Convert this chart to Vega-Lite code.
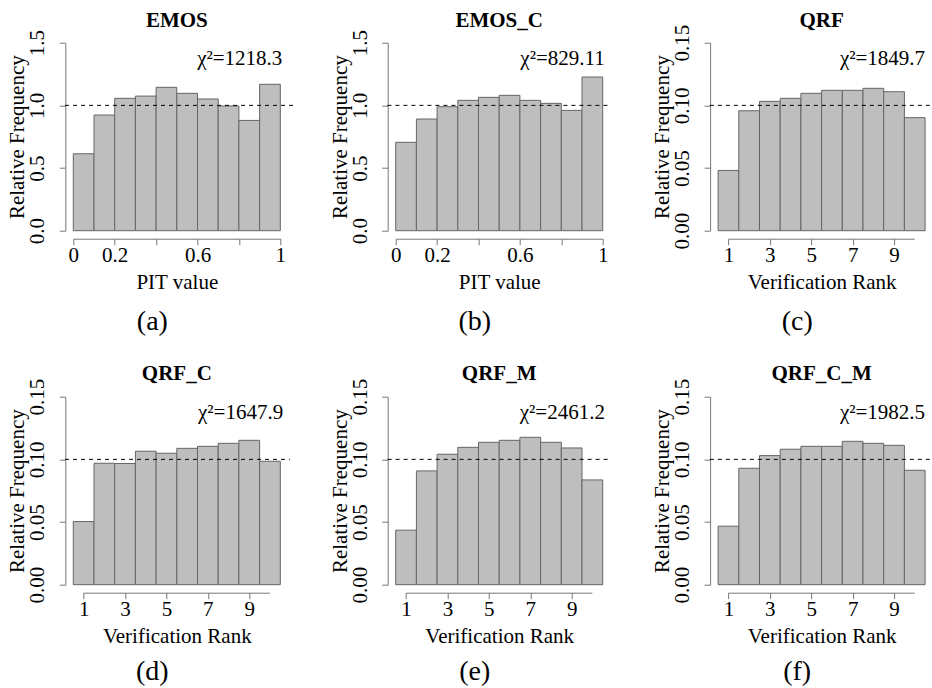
{
 "$schema": "https://vega.github.io/schema/vega-lite/v6.json",
 "background": "white",
 "autosize": {"type": "none"},
 "padding": {"left": 73.3, "top": 42.7, "right": 858.7, "bottom": 645.3},
 "datasets": {
  "emos": [
   {"lo": 0.0, "hi": 0.1, "freq": 0.614}, {"lo": 0.1, "hi": 0.2, "freq": 0.923}, {"lo": 0.2, "hi": 0.3, "freq": 1.056},
   {"lo": 0.3, "hi": 0.4, "freq": 1.074}, {"lo": 0.4, "hi": 0.5, "freq": 1.144}, {"lo": 0.5, "hi": 0.6, "freq": 1.096},
   {"lo": 0.6, "hi": 0.7, "freq": 1.051}, {"lo": 0.7, "hi": 0.8, "freq": 0.995}, {"lo": 0.8, "hi": 0.9, "freq": 0.880},
   {"lo": 0.9, "hi": 1.0, "freq": 1.168}
  ],
  "emos_c": [
   {"lo": 0.0, "hi": 0.1, "freq": 0.705}, {"lo": 0.1, "hi": 0.2, "freq": 0.891}, {"lo": 0.2, "hi": 0.3, "freq": 0.989},
   {"lo": 0.3, "hi": 0.4, "freq": 1.040}, {"lo": 0.4, "hi": 0.5, "freq": 1.064}, {"lo": 0.5, "hi": 0.6, "freq": 1.080},
   {"lo": 0.6, "hi": 0.7, "freq": 1.040}, {"lo": 0.7, "hi": 0.8, "freq": 1.016}, {"lo": 0.8, "hi": 0.9, "freq": 0.960},
   {"lo": 0.9, "hi": 1.0, "freq": 1.226}
  ],
  "qrf": [
   {"lo": 0.5, "hi": 1.5, "freq": 0.0481}, {"lo": 1.5, "hi": 2.5, "freq": 0.0957}, {"lo": 2.5, "hi": 3.5, "freq": 0.1032},
   {"lo": 3.5, "hi": 4.5, "freq": 0.1056}, {"lo": 4.5, "hi": 5.5, "freq": 0.1096}, {"lo": 5.5, "hi": 6.5, "freq": 0.1120},
   {"lo": 6.5, "hi": 7.5, "freq": 0.1120}, {"lo": 7.5, "hi": 8.5, "freq": 0.1136}, {"lo": 8.5, "hi": 9.5, "freq": 0.1109},
   {"lo": 9.5, "hi": 10.5, "freq": 0.0902}
  ],
  "qrf_c": [
   {"lo": 0.5, "hi": 1.5, "freq": 0.0504}, {"lo": 1.5, "hi": 2.5, "freq": 0.0969}, {"lo": 2.5, "hi": 3.5, "freq": 0.0967},
   {"lo": 3.5, "hi": 4.5, "freq": 0.1065}, {"lo": 4.5, "hi": 5.5, "freq": 0.1049}, {"lo": 5.5, "hi": 6.5, "freq": 0.1088},
   {"lo": 6.5, "hi": 7.5, "freq": 0.1104}, {"lo": 7.5, "hi": 8.5, "freq": 0.1128}, {"lo": 8.5, "hi": 9.5, "freq": 0.1152},
   {"lo": 9.5, "hi": 10.5, "freq": 0.0985}
  ],
  "qrf_m": [
   {"lo": 0.5, "hi": 1.5, "freq": 0.0435}, {"lo": 1.5, "hi": 2.5, "freq": 0.0908}, {"lo": 2.5, "hi": 3.5, "freq": 0.1041},
   {"lo": 3.5, "hi": 4.5, "freq": 0.1096}, {"lo": 4.5, "hi": 5.5, "freq": 0.1136}, {"lo": 5.5, "hi": 6.5, "freq": 0.1152},
   {"lo": 6.5, "hi": 7.5, "freq": 0.1176}, {"lo": 7.5, "hi": 8.5, "freq": 0.1136}, {"lo": 8.5, "hi": 9.5, "freq": 0.1091},
   {"lo": 9.5, "hi": 10.5, "freq": 0.0836}
  ],
  "qrf_c_m": [
   {"lo": 0.5, "hi": 1.5, "freq": 0.0467}, {"lo": 1.5, "hi": 2.5, "freq": 0.0929}, {"lo": 2.5, "hi": 3.5, "freq": 0.1030},
   {"lo": 3.5, "hi": 4.5, "freq": 0.1081}, {"lo": 4.5, "hi": 5.5, "freq": 0.1104}, {"lo": 5.5, "hi": 6.5, "freq": 0.1104},
   {"lo": 6.5, "hi": 7.5, "freq": 0.1144}, {"lo": 7.5, "hi": 8.5, "freq": 0.1128}, {"lo": 8.5, "hi": 9.5, "freq": 0.1112},
   {"lo": 9.5, "hi": 10.5, "freq": 0.0913}
  ]
 },
 "config": {
  "view": {"stroke": null},
  "font": "Liberation Serif",
  "text": {"color": "black", "font": "Liberation Serif"},
  "axis": {
   "grid": false, "domainColor": "#777777", "tickColor": "#777777", "labelColor": "black", "titleColor": "black",
   "labelFont": "Liberation Serif", "titleFont": "Liberation Serif", "labelFontSize": 21, "titleFontSize": 21,
   "titleFontWeight": "normal", "tickSize": 6, "labelOverlap": false, "labelBound": false, "labelFlush": false
  },
  "axisX": {"offset": 8, "labelPadding": 17, "labelBaseline": "alphabetic", "titleBaseline": "alphabetic", "titlePadding": 23},
  "axisY": {"offset": 8, "labelAngle": -90, "labelAlign": "center", "labelBaseline": "alphabetic", "labelPadding": 15.5, "titleBaseline": "alphabetic", "titlePadding": 3}
 },
 "columns": 3,
 "spacing": {"row": 166, "column": 115.4},
 "bounds": "flush",
 "concat": [
  {"width": 207, "height": 188,
   "layer": [
    {"data": {"name": "emos"},
     "mark": {"type": "rect", "fill": "#bebebe", "stroke": "#666666", "strokeWidth": 1},
     "encoding": {
      "x": {"field": "lo", "type": "quantitative", "scale": {"domain": [0, 1], "nice": false, "zero": false},
            "axis": {"title": "PIT value", "values": [0, 0.2, 0.4, 0.6, 0.8, 1], "labelExpr": "datum.value == 0 ? '0' : datum.value == 1 ? '1' : (abs(datum.value - 0.4) < 0.001 || abs(datum.value - 0.8) < 0.001) ? '' : format(datum.value, '.1f')"}},
      "x2": {"field": "hi"},
      "y": {"field": "freq", "type": "quantitative", "scale": {"domain": [0, 1.5], "nice": false},
            "axis": {"title": "Relative Frequency", "values": [0, 0.5, 1, 1.5], "format": ".1f"}},
      "y2": {"datum": 0}}},
    {"data": {"values": [{"ref": 1}]},
     "mark": {"type": "rule", "strokeDash": [4, 4], "color": "black", "strokeWidth": 1},
     "encoding": {"y": {"field": "ref", "type": "quantitative"}, "x": {"datum": -0.04}, "x2": {"datum": 1.08}}},
    {"data": {"values": [{"name": "EMOS", "chi": "χ²=1218.3", "cap": "(a)"}]},
     "layer": [
      {"mark": {"type": "text", "align": "center", "baseline": "alphabetic", "fontSize": 21, "fontWeight": "bold"},
       "encoding": {"x": {"datum": 0.5}, "y": {"datum": 1.628}, "text": {"field": "name"}}},
      {"mark": {"type": "text", "align": "right", "baseline": "alphabetic", "fontSize": 21},
       "encoding": {"x": {"datum": 1.01}, "y": {"datum": 1.32}, "text": {"field": "chi"}}},
      {"mark": {"type": "text", "align": "center", "baseline": "alphabetic", "fontSize": 28},
       "encoding": {"x": {"datum": 0.382}, "y": {"datum": -0.792}, "text": {"field": "cap"}}}
     ]}
   ]},
  {"width": 207, "height": 188,
   "layer": [
    {"data": {"name": "emos_c"},
     "mark": {"type": "rect", "fill": "#bebebe", "stroke": "#666666", "strokeWidth": 1},
     "encoding": {
      "x": {"field": "lo", "type": "quantitative", "scale": {"domain": [0, 1], "nice": false, "zero": false},
            "axis": {"title": "PIT value", "values": [0, 0.2, 0.4, 0.6, 0.8, 1], "labelExpr": "datum.value == 0 ? '0' : datum.value == 1 ? '1' : (abs(datum.value - 0.4) < 0.001 || abs(datum.value - 0.8) < 0.001) ? '' : format(datum.value, '.1f')"}},
      "x2": {"field": "hi"},
      "y": {"field": "freq", "type": "quantitative", "scale": {"domain": [0, 1.5], "nice": false},
            "axis": {"title": "Relative Frequency", "values": [0, 0.5, 1, 1.5], "format": ".1f"}},
      "y2": {"datum": 0}}},
    {"data": {"values": [{"ref": 1}]},
     "mark": {"type": "rule", "strokeDash": [4, 4], "color": "black", "strokeWidth": 1},
     "encoding": {"y": {"field": "ref", "type": "quantitative"}, "x": {"datum": -0.04}, "x2": {"datum": 1.04}}},
    {"data": {"values": [{"name": "EMOS_C", "chi": "χ²=829.11", "cap": "(b)"}]},
     "layer": [
      {"mark": {"type": "text", "align": "center", "baseline": "alphabetic", "fontSize": 21, "fontWeight": "bold"},
       "encoding": {"x": {"datum": 0.5}, "y": {"datum": 1.628}, "text": {"field": "name"}}},
      {"mark": {"type": "text", "align": "right", "baseline": "alphabetic", "fontSize": 21},
       "encoding": {"x": {"datum": 1.01}, "y": {"datum": 1.32}, "text": {"field": "chi"}}},
      {"mark": {"type": "text", "align": "center", "baseline": "alphabetic", "fontSize": 28},
       "encoding": {"x": {"datum": 0.382}, "y": {"datum": -0.792}, "text": {"field": "cap"}}}
     ]}
   ]},
  {"width": 207, "height": 188,
   "layer": [
    {"data": {"name": "qrf"},
     "mark": {"type": "rect", "fill": "#bebebe", "stroke": "#666666", "strokeWidth": 1},
     "encoding": {
      "x": {"field": "lo", "type": "quantitative", "scale": {"domain": [0.5, 10.5], "nice": false, "zero": false},
            "axis": {"title": "Verification Rank", "domain": false, "values": [1, 2, 3, 4, 5, 6, 7, 8, 9, 10], "labelExpr": "datum.value % 2 == 1 ? datum.label : ''"}},
      "x2": {"field": "hi"},
      "y": {"field": "freq", "type": "quantitative", "scale": {"domain": [0, 0.15], "nice": false},
            "axis": {"title": "Relative Frequency", "values": [0, 0.05, 0.1, 0.15], "format": ".2f"}},
      "y2": {"datum": 0}}},
    {"data": {"values": [{"ref": 0.1}]},
     "mark": {"type": "rule", "strokeDash": [4, 4], "color": "black", "strokeWidth": 1},
     "encoding": {"y": {"field": "ref", "type": "quantitative"}, "x": {"datum": 0.1}, "x2": {"datum": 10.8}}},
    {"data": {"values": [{"first": 1, "last": 10}]},
     "mark": {"type": "rule", "color": "#777777", "strokeWidth": 1},
     "encoding": {"x": {"field": "first", "type": "quantitative"}, "x2": {"field": "last"}, "y": {"datum": -0.00678}}},
    {"data": {"values": [{"name": "QRF", "chi": "χ²=1849.7", "cap": "(c)"}]},
     "layer": [
      {"mark": {"type": "text", "align": "center", "baseline": "alphabetic", "fontSize": 21, "fontWeight": "bold"},
       "encoding": {"x": {"datum": 5.5}, "y": {"datum": 0.1628}, "text": {"field": "name"}}},
      {"mark": {"type": "text", "align": "right", "baseline": "alphabetic", "fontSize": 21},
       "encoding": {"x": {"datum": 10.5}, "y": {"datum": 0.132}, "text": {"field": "chi"}}},
      {"mark": {"type": "text", "align": "center", "baseline": "alphabetic", "fontSize": 28},
       "encoding": {"x": {"datum": 4.32}, "y": {"datum": -0.0792}, "text": {"field": "cap"}}}
     ]}
   ]},
  {"width": 207, "height": 188,
   "layer": [
    {"data": {"name": "qrf_c"},
     "mark": {"type": "rect", "fill": "#bebebe", "stroke": "#666666", "strokeWidth": 1},
     "encoding": {
      "x": {"field": "lo", "type": "quantitative", "scale": {"domain": [0.5, 10.5], "nice": false, "zero": false},
            "axis": {"title": "Verification Rank", "domain": false, "values": [1, 2, 3, 4, 5, 6, 7, 8, 9, 10], "labelExpr": "datum.value % 2 == 1 ? datum.label : ''"}},
      "x2": {"field": "hi"},
      "y": {"field": "freq", "type": "quantitative", "scale": {"domain": [0, 0.15], "nice": false},
            "axis": {"title": "Relative Frequency", "values": [0, 0.05, 0.1, 0.15], "format": ".2f"}},
      "y2": {"datum": 0}}},
    {"data": {"values": [{"ref": 0.1}]},
     "mark": {"type": "rule", "strokeDash": [4, 4], "color": "black", "strokeWidth": 1},
     "encoding": {"y": {"field": "ref", "type": "quantitative"}, "x": {"datum": 0.1}, "x2": {"datum": 10.97}}},
    {"data": {"values": [{"first": 1, "last": 10}]},
     "mark": {"type": "rule", "color": "#777777", "strokeWidth": 1},
     "encoding": {"x": {"field": "first", "type": "quantitative"}, "x2": {"field": "last"}, "y": {"datum": -0.00678}}},
    {"data": {"values": [{"name": "QRF_C", "chi": "χ²=1647.9", "cap": "(d)"}]},
     "layer": [
      {"mark": {"type": "text", "align": "center", "baseline": "alphabetic", "fontSize": 21, "fontWeight": "bold"},
       "encoding": {"x": {"datum": 5.5}, "y": {"datum": 0.1635}, "text": {"field": "name"}}},
      {"mark": {"type": "text", "align": "right", "baseline": "alphabetic", "fontSize": 21},
       "encoding": {"x": {"datum": 10.64}, "y": {"datum": 0.132}, "text": {"field": "chi"}}},
      {"mark": {"type": "text", "align": "center", "baseline": "alphabetic", "fontSize": 28},
       "encoding": {"x": {"datum": 4.32}, "y": {"datum": -0.0757}, "text": {"field": "cap"}}}
     ]}
   ]},
  {"width": 207, "height": 188,
   "layer": [
    {"data": {"name": "qrf_m"},
     "mark": {"type": "rect", "fill": "#bebebe", "stroke": "#666666", "strokeWidth": 1},
     "encoding": {
      "x": {"field": "lo", "type": "quantitative", "scale": {"domain": [0.5, 10.5], "nice": false, "zero": false},
            "axis": {"title": "Verification Rank", "domain": false, "values": [1, 2, 3, 4, 5, 6, 7, 8, 9, 10], "labelExpr": "datum.value % 2 == 1 ? datum.label : ''"}},
      "x2": {"field": "hi"},
      "y": {"field": "freq", "type": "quantitative", "scale": {"domain": [0, 0.15], "nice": false},
            "axis": {"title": "Relative Frequency", "values": [0, 0.05, 0.1, 0.15], "format": ".2f"}},
      "y2": {"datum": 0}}},
    {"data": {"values": [{"ref": 0.1}]},
     "mark": {"type": "rule", "strokeDash": [4, 4], "color": "black", "strokeWidth": 1},
     "encoding": {"y": {"field": "ref", "type": "quantitative"}, "x": {"datum": 0.11}, "x2": {"datum": 10.93}}},
    {"data": {"values": [{"first": 1, "last": 10}]},
     "mark": {"type": "rule", "color": "#777777", "strokeWidth": 1},
     "encoding": {"x": {"field": "first", "type": "quantitative"}, "x2": {"field": "last"}, "y": {"datum": -0.00678}}},
    {"data": {"values": [{"name": "QRF_M", "chi": "χ²=2461.2", "cap": "(e)"}]},
     "layer": [
      {"mark": {"type": "text", "align": "center", "baseline": "alphabetic", "fontSize": 21, "fontWeight": "bold"},
       "encoding": {"x": {"datum": 5.5}, "y": {"datum": 0.1635}, "text": {"field": "name"}}},
      {"mark": {"type": "text", "align": "right", "baseline": "alphabetic", "fontSize": 21},
       "encoding": {"x": {"datum": 10.61}, "y": {"datum": 0.132}, "text": {"field": "chi"}}},
      {"mark": {"type": "text", "align": "center", "baseline": "alphabetic", "fontSize": 28},
       "encoding": {"x": {"datum": 4.32}, "y": {"datum": -0.0757}, "text": {"field": "cap"}}}
     ]}
   ]},
  {"width": 207, "height": 188,
   "layer": [
    {"data": {"name": "qrf_c_m"},
     "mark": {"type": "rect", "fill": "#bebebe", "stroke": "#666666", "strokeWidth": 1},
     "encoding": {
      "x": {"field": "lo", "type": "quantitative", "scale": {"domain": [0.5, 10.5], "nice": false, "zero": false},
            "axis": {"title": "Verification Rank", "domain": false, "values": [1, 2, 3, 4, 5, 6, 7, 8, 9, 10], "labelExpr": "datum.value % 2 == 1 ? datum.label : ''"}},
      "x2": {"field": "hi"},
      "y": {"field": "freq", "type": "quantitative", "scale": {"domain": [0, 0.15], "nice": false},
            "axis": {"title": "Relative Frequency", "values": [0, 0.05, 0.1, 0.15], "format": ".2f"}},
      "y2": {"datum": 0}}},
    {"data": {"values": [{"ref": 0.1}]},
     "mark": {"type": "rule", "strokeDash": [4, 4], "color": "black", "strokeWidth": 1},
     "encoding": {"y": {"field": "ref", "type": "quantitative"}, "x": {"datum": 0.1}, "x2": {"datum": 10.8}}},
    {"data": {"values": [{"first": 1, "last": 10}]},
     "mark": {"type": "rule", "color": "#777777", "strokeWidth": 1},
     "encoding": {"x": {"field": "first", "type": "quantitative"}, "x2": {"field": "last"}, "y": {"datum": -0.00678}}},
    {"data": {"values": [{"name": "QRF_C_M", "chi": "χ²=1982.5", "cap": "(f)"}]},
     "layer": [
      {"mark": {"type": "text", "align": "center", "baseline": "alphabetic", "fontSize": 21, "fontWeight": "bold"},
       "encoding": {"x": {"datum": 5.5}, "y": {"datum": 0.1635}, "text": {"field": "name"}}},
      {"mark": {"type": "text", "align": "right", "baseline": "alphabetic", "fontSize": 21},
       "encoding": {"x": {"datum": 10.5}, "y": {"datum": 0.132}, "text": {"field": "chi"}}},
      {"mark": {"type": "text", "align": "center", "baseline": "alphabetic", "fontSize": 28},
       "encoding": {"x": {"datum": 4.32}, "y": {"datum": -0.0757}, "text": {"field": "cap"}}}
     ]}
   ]}
 ]
}
